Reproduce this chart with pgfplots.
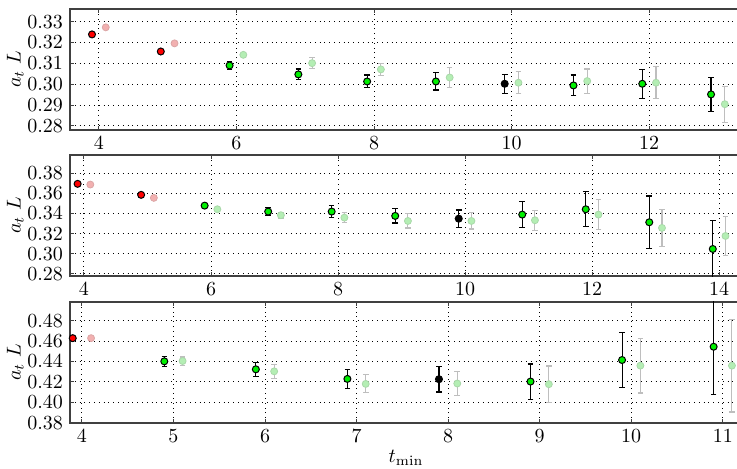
\documentclass[border=0pt]{standalone}
\usepackage{pgfplots}
\pgfplotsset{compat=1.18}

\definecolor{mRed}{HTML}{FF0000}
\definecolor{mGreen}{HTML}{00F000}
\definecolor{fRed}{HTML}{F2B0B0}
\definecolor{fGreen}{HTML}{B4EEB4}
\definecolor{fBar}{HTML}{BEBEBE}

\pgfplotsset{
  panel/.style={
    scale only axis,
    width=336pt, height=60.5pt,
    anchor=south west,
    grid=major,
    major grid style={black, dotted, line width=0.5pt},
    axis line style={black!75, line width=0.8pt},
    tick style={black!75, line width=0.5pt},
    major tick length=2pt,
    tick label style={font=\normalsize},
    yticklabel style={/pgf/number format/.cd, fixed, fixed zerofill, precision=2},
    ylabel={$a_t\;L$},
    ylabel style={at={(axis description cs:-0.0815,0.5)}, anchor=center},
  },
  mainpts/.style={only marks, mark=*, mark size=1.75pt,
    mark options={draw=black, fill=#1, line width=0.5pt},
    error bars/.cd, y dir=both, y explicit,
    error bar style={black, line width=0.55pt},
    error mark options={rotate=90, mark size=1.4pt, black, line width=0.55pt}},
  fadepts/.style={only marks, mark=*, mark size=1.75pt,
    mark options={draw=#1!80!gray, fill=#1, line width=0.4pt},
    error bars/.cd, y dir=both, y explicit,
    error bar style={fBar, line width=0.55pt},
    error mark options={rotate=90, mark size=1.4pt, fBar, line width=0.55pt}},
}

\begin{document}
\begin{tikzpicture}

% ---- top panel
\begin{axis}[panel, at={(35pt,169pt)},
  xmin=3.58, xmax=13.35, ymin=0.278, ymax=0.3361,
  xtick={4,6,8,10,12}, ytick={0.28,0.29,0.30,0.31,0.32,0.33}]
\addplot+[fadepts=fRed] coordinates {
  (4.1,0.3273) +- (0,0.0006) (5.1,0.3196) +- (0,0.0008)};
\addplot+[fadepts=fGreen] coordinates {
  (6.1,0.3141) +- (0,0.0012) (7.1,0.3101) +- (0,0.0026)
  (8.1,0.3071) +- (0,0.0030) (9.1,0.3032) +- (0,0.0046)
  (10.1,0.3007) +- (0,0.0052) (11.1,0.3015) +- (0,0.0058)
  (12.1,0.3007) +- (0,0.0077) (13.1,0.2904) +- (0,0.0087)};
\addplot+[mainpts=mRed] coordinates {
  (3.9,0.3239) +- (0,0.0008) (4.9,0.3157) +- (0,0.0009)};
\addplot+[mainpts=mGreen] coordinates {
  (5.9,0.3090) +- (0,0.0020) (6.9,0.3047) +- (0,0.0026)
  (7.9,0.3013) +- (0,0.0031) (8.9,0.3013) +- (0,0.0041)
  (10.9,0.2994) +- (0,0.0050) (11.9,0.3002) +- (0,0.0070)
  (12.9,0.2951) +- (0,0.0081)};
\addplot+[mainpts=black] coordinates {(9.9,0.3002) +- (0,0.0046)};
\end{axis}

% ---- middle panel
\begin{axis}[panel, at={(35pt,96pt)},
  xmin=3.78, xmax=14.36, ymin=0.278, ymax=0.398,
  xtick={4,6,8,10,12,14}, ytick={0.28,0.30,0.32,0.34,0.36,0.38}]
\addplot+[fadepts=fRed] coordinates {
  (4.1,0.3687) +- (0,0.0015) (5.1,0.3555) +- (0,0.0020)};
\addplot+[fadepts=fGreen] coordinates {
  (6.1,0.3442) +- (0,0.0020) (7.1,0.3383) +- (0,0.0030)
  (8.1,0.3359) +- (0,0.0050) (9.1,0.3326) +- (0,0.0070)
  (10.1,0.3326) +- (0,0.0080) (11.1,0.3333) +- (0,0.0098)
  (12.1,0.3389) +- (0,0.0146) (13.1,0.3257) +- (0,0.0180)
  (14.1,0.3177) +- (0,0.0197)};
\addplot+[mainpts=mRed] coordinates {
  (3.9,0.3694) +- (0,0.0015) (4.9,0.3585) +- (0,0.0015)};
\addplot+[mainpts=mGreen] coordinates {
  (5.9,0.3478) +- (0,0.0020) (6.9,0.3419) +- (0,0.0042)
  (7.9,0.3419) +- (0,0.0056) (8.9,0.3376) +- (0,0.0070)
  (10.9,0.3389) +- (0,0.0127) (11.9,0.3442) +- (0,0.0175)
  (12.9,0.3313) +- (0,0.0260) (13.9,0.3048) +- (0,0.0280)};
\addplot+[mainpts=black] coordinates {(9.9,0.3349) +- (0,0.0086)};
\end{axis}

% ---- bottom panel
\begin{axis}[panel, at={(35pt,22.65pt)},
  xmin=3.87, xmax=11.21, ymin=0.38, ymax=0.4985,
  xtick={4,5,6,7,8,9,10,11}, ytick={0.38,0.40,0.42,0.44,0.46,0.48},
  xlabel={$t_{\min}$}, xlabel style={yshift=3pt}]
\addplot+[fadepts=fRed] coordinates {(4.1,0.4628) +- (0,0.0020)};
\addplot+[fadepts=fGreen] coordinates {
  (5.1,0.4404) +- (0,0.0040) (6.1,0.4303) +- (0,0.0070)
  (7.1,0.4180) +- (0,0.0088) (8.1,0.4184) +- (0,0.0117)
  (9.1,0.4177) +- (0,0.0178) (10.1,0.4359) +- (0,0.0268)
  (11.1,0.4359) +- (0,0.0454)};
\addplot+[mainpts=mRed] coordinates {(3.9,0.4628) +- (0,0.0020)};
\addplot+[mainpts=mGreen] coordinates {
  (4.9,0.4401) +- (0,0.0050) (5.9,0.4323) +- (0,0.0068)
  (6.9,0.4229) +- (0,0.0090) (8.9,0.4203) +- (0,0.0172)
  (9.9,0.4414) +- (0,0.0270) (10.9,0.4544) +- (0,0.0470)};
\addplot+[mainpts=black] coordinates {(7.9,0.4226) +- (0,0.0125)};
\end{axis}

\pgfresetboundingbox
\path[use as bounding box] (0,0) rectangle (368.5pt,234pt);
\end{tikzpicture}
\end{document}
